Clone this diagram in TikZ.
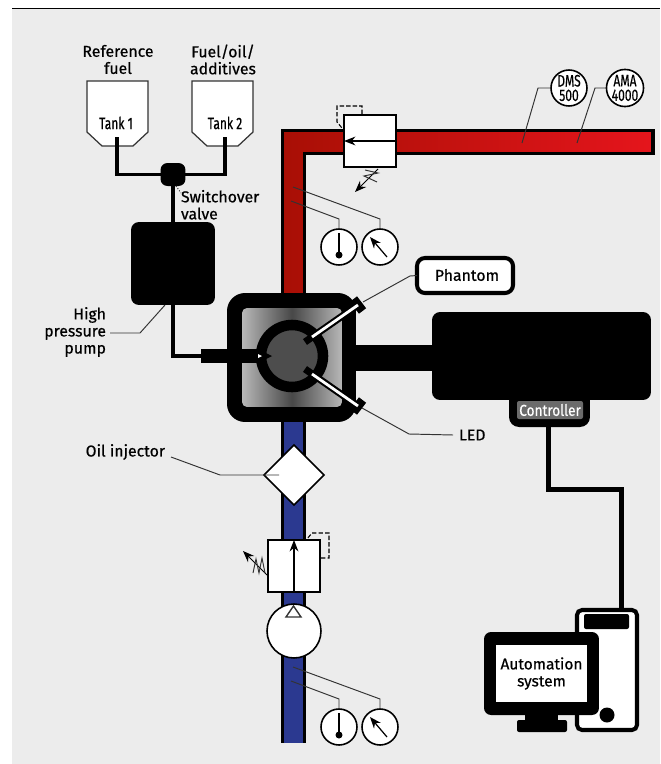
\documentclass[tikz,border=0pt]{standalone}
\usepackage{fontspec}
\setmainfont[FakeBold=0.5]{Fira Sans}
\usetikzlibrary{shapes.geometric,arrows.meta}
\definecolor{panelgray}{HTML}{ECECEC}
\definecolor{pipeblue}{HTML}{2B3990}
\definecolor{darkred}{HTML}{A80F05}
\definecolor{brightred}{HTML}{E5151C}
\definecolor{discgray}{HTML}{4D4D4D}
\definecolor{leadgray}{HTML}{333333}
\newcommand{\narrowtext}[1]{\scalebox{.76}[1.05]{#1}}
\begin{document}
\begin{tikzpicture}[x=0.02cm, y=-0.02cm, >=stealth,
                    every node/.style={inner sep=0pt, outer sep=0pt,
                                       font=\fontsize{9}{9.7}\selectfont, align=center},
                    solid box/.style={fill=black, rounded corners=0.16cm},
                    dial/.style={circle, draw, fill=white, line width=0.9pt, minimum size=0.72cm},
                    valvebox/.style={draw, fill=white, line width=0.9pt, minimum size=1.04cm},
                    pipe/.style={line width=2pt},
                    cable/.style={line width=2.85pt},
                    leader/.style={leadgray, line width=0.55pt},
                    pilot/.style={black, line width=0.6pt, dash pattern=on 2.5pt off 1.2pt},
                    tankline/.style={leadgray, fill=white, line width=0.7pt},
                    flow/.style={-{Stealth[length=6.5pt, width=5pt]}, line width=0.7pt}]
\useasboundingbox (0,0) rectangle (660,764);
\fill[panelgray] (12,8) rectangle (660,764);
\draw[line width=1pt] (12,8.5) -- (660,8.5);

\node (reffuel) at (118,59.5) {Reference\\fuel};
\node (fueloil) at (223,59.5) {Fuel/oil/\\additives};
\draw[tankline] (87,81) -- (148,81) -- (148,132) -- (133,146) -- (102,146) -- (87,132) -- cycle;
\draw[tankline] (192,81) -- (253,81) -- (253,132) -- (238,146) -- (207,146) -- (192,132) -- cycle;
\node (tankone) at (116,123) {\narrowtext{Tank 1}};
\node (tanktwo) at (225,123) {\narrowtext{Tank 2}};
\coordinate (tankoneout) at (117,137);
\coordinate (tanktwoout) at (225,137);

\node[fill=black, rounded corners=0.14cm, minimum width=0.5cm, minimum height=0.46cm] (switchvalve) at (173,174.5) {};
\node[solid box, minimum width=1.68cm, minimum height=1.66cm] (pump) at (173,263.5) {};
\node[fill=black, minimum width=1.16cm, minimum height=0.28cm] (injector) at (230,356) {};
\draw[pipe] (tankoneout) |- (switchvalve);
\draw[pipe] (tanktwoout) |- (switchvalve);
\draw[pipe] (switchvalve) -- (pump);
\draw[pipe] (pump) |- (injector);

\shade[left color=darkred, right color=brightred, draw=black, line width=1.85pt]
  (282.6,293) -- (282.6,130.6) -- (653,130.6) -- (653,153.4) -- (304.4,153.4) -- (304.4,293);
\fill[pipeblue] (281,415) rectangle (306,743);
\draw[line width=1.5pt] (282.3,415) -- (282.3,743);
\draw[line width=1.5pt] (304.7,415) -- (304.7,743);

\node[fill=black, rounded corners=0.36cm, minimum size=2.58cm] (reactor) at (291.5,357.5) {};
\node[rounded corners=0.1cm, left color=black!28, right color=black!28, middle color=black!72,
      minimum width=2cm, minimum height=1.98cm] (chamber) at (292,357.5) {};
\node[solid box, minimum width=4.38cm, minimum height=1.76cm] (engine) at (541.5,356) {};
\node[fill=black, rounded corners=0.2cm, minimum width=1.62cm, minimum height=0.8cm] (controllertab) at (549.5,407) {};
\node[fill=black!58, rounded corners=0.04cm, minimum width=1.32cm, minimum height=0.36cm,
      text=white] (controller) at (550,410) {\scalebox{.86}[1]{Controller}};
\draw[line width=14.8pt] (reactor.east) -- (reactor.east -| engine.west);
\node[fill=black, minimum width=1.16cm, minimum height=0.28cm] (injectortwo) at (230,356) {};
\node[circle, draw, fill=discgray, line width=6pt, minimum size=1.24cm] (cell) at (292,356) {};
\fill (262,351) -- (272,356) -- (262,361) -- cycle;
\fill[white] (258,354) -- (262,356) -- (258,358) -- cycle;

\node[fill=black, minimum width=0.18cm, minimum height=0.3cm, rotate=37] (phantomcap) at (358,305) {};
\node[fill=black, minimum width=0.18cm, minimum height=0.3cm, rotate=-37] (ledcap) at (358,406) {};
\coordinate (phantomtip) at (305,342);
\coordinate (phantomend) at (312,337);
\coordinate (ledtip) at (305,369);
\coordinate (ledend) at (312,374);
\draw[line width=4pt] (phantomcap.center) -- (phantomtip);
\draw[line width=4pt] (ledcap.center) -- (ledtip);
\draw[white, line width=1.6pt] (phantomcap.center) -- (phantomend);
\draw[white, line width=1.6pt] (ledcap.center) -- (ledend);

\node[draw, fill=white, line width=2.3pt, rounded corners=0.16cm, minimum width=1.92cm, minimum height=0.7cm] (phantom) at (465,275.5) {};
\node (phantomtext) at (467,275) {Phantom};
\coordinate (phantomtap) at (363,302);
\draw[leader] (phantom.west) -- (410,276) -- (phantomtap);
\node[anchor=west] (led) at (459,435) {LED};
\coordinate (ledtap) at (362,408);
\draw[leader] (led.west) ++(-6,0) -- (409,434) -- (ledtap);

\node[valvebox] (redvalve) at (370,141) {};
\draw[flow] (redvalve.east) -- (redvalve.west);
\coordinate (redpilot) at (362,114);
\coordinate (redpilotend) at (342,128);
\draw[pilot] (redpilot) -- (362,106) -- (337,106) -- (337,122) -- (redpilotend);
\coordinate (redspring) at (378,169);
\coordinate (redspringtip) at (355,192);
\draw[flow, line width=0.55pt] (redspring) -- (redspringtip);
\draw[leader] (365,170) -- (378,173) -- (364,176) -- (377,182);

\node[dial] (redtemp) at (339,247) {};
\node[dial] (redpress) at (380,247) {};
\coordinate (redtapone) at (291,201);
\coordinate (redtaptwo) at (293,187);
\draw[leader] (redtemp) -- (339,219) -- (redtapone);
\draw[leader] (redpress) -- (380,219) -- (redtaptwo);
\node[circle, fill=black, minimum size=0.14cm] (redbulb) at (339,255) {};
\coordinate (redstem) at (339,233);
\draw[line width=0.6pt] (redbulb) -- (redstem);
\coordinate (redneedlefoot) at (387,257);
\coordinate (redneedletip) at (370,237);
\draw[flow] (redneedlefoot) -- (redneedletip);

\node[dial] (dms) at (569,88) {\narrowtext{DMS}\\[-1.5pt]\narrowtext{500}};
\node[dial] (ama) at (625,88) {\narrowtext{AMA}\\[-1.5pt]\narrowtext{4000}};
\coordinate (dmstap) at (522,143);
\coordinate (amatap) at (577,143);
\draw[leader] (dms) -- (538,88) -- (dmstap);
\draw[leader] (ama) -- (595,88) -- (amatap);

\node[anchor=north west] (switchlabel) at (181,190) {\parbox{2cm}{\raggedright Switchover\\valve}};
\coordinate (switchtap) at (176,186);
\coordinate (switchlabeltap) at (181,193);
\draw[leader, densely dotted] (switchtap) -- (switchlabeltap);
\node[anchor=east] (pumplabel) at (106,332) {\parbox{2cm}{\raggedleft High\\pressure\\pump}};
\coordinate (pumptap) at (165,305);
\draw[leader] (pumplabel.east) ++(4,1) -- (140,333) -- (pumptap);

\node[diamond, draw, fill=white, line width=0.9pt, minimum width=1.2cm, minimum height=1.2cm] (oilinjector) at (294,475) {};
\node[anchor=east] (oillabel) at (165,452) {Oil injector};
\coordinate (oiltap) at (279,475);
\draw[leader] (171,457) -- (220,475) -- (oiltap);

\node[valvebox] (bluevalve) at (294,566) {};
\draw[flow] (bluevalve.south) -- (bluevalve.north);
\coordinate (bluepilot) at (321,558);
\coordinate (bluepilotend) at (307,539);
\draw[pilot] (bluepilot) -- (329,558) -- (329,533) -- (312,533) -- (bluepilotend);
\coordinate (bluespring) at (267,575);
\coordinate (bluespringtip) at (243,551);
\draw[flow, line width=0.55pt] (bluespring) -- (bluespringtip);
\draw[leader] (253,573) -- (256,559) -- (259,573) -- (262,558) -- (265,573);

\node[circle, draw, fill=white, line width=0.9pt, minimum size=1.08cm] (feedpump) at (294,631) {};
\draw[fill=white, line width=0.8pt, draw=leadgray] (293.5,606) -- (301,617) -- (286,617) -- cycle;

\node[dial] (bluetemp) at (339,727) {};
\node[dial] (bluepress) at (380,727) {};
\coordinate (bluetapone) at (291,681);
\coordinate (bluetaptwo) at (293,667);
\draw[leader] (bluetemp) -- (339,699) -- (bluetapone);
\draw[leader] (bluepress) -- (380,699) -- (bluetaptwo);
\node[circle, fill=black, minimum size=0.14cm] (bluebulb) at (339,735) {};
\coordinate (bluestem) at (339,713);
\draw[line width=0.6pt] (bluebulb) -- (bluestem);
\coordinate (blueneedlefoot) at (387,737);
\coordinate (blueneedletip) at (370,717);
\draw[flow] (blueneedlefoot) -- (blueneedletip);

\node[draw, fill=white, line width=2.3pt, rounded corners=0.1cm, minimum width=1.2cm, minimum height=2.4cm] (tower) at (607,670) {};
\node[fill=black, rounded corners=0.04cm, minimum width=0.9cm, minimum height=0.3cm] (towerslot) at (606.5,621.5) {};
\node[circle, fill=black, minimum size=0.3cm] (towerbutton) at (607,715) {};
\coordinate (cablebend) at (621,489);
\draw[cable] (controllertab.south -| 548,0) |- (cablebend) -- (tower.north -| cablebend);
\node[fill=black, minimum width=0.66cm, minimum height=0.2cm] (monitorneck) at (541.5,718) {};
\node[fill=black, rounded corners=0.04cm, minimum width=1cm, minimum height=0.24cm] (monitorbase) at (542,726) {};
\node[fill=black, rounded corners=0.14cm, minimum width=2.3cm, minimum height=1.66cm] (monitor) at (541.5,673.5) {};
\node[fill=white, minimum width=1.82cm, minimum height=1.14cm, font=\fontsize{8.8}{9.7}\selectfont] (automation) at (541.5,673.5) {Automation\\system};
\end{tikzpicture}
\end{document}
